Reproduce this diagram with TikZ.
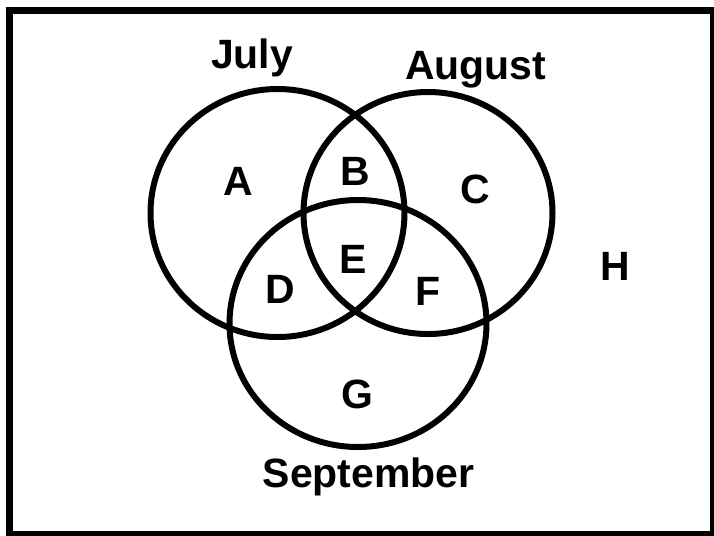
\documentclass[tikz,border=0pt]{standalone}
\usepackage{fontspec}
\setmainfont{Liberation Sans}
\usetikzlibrary{positioning}

\begin{document}
\begin{tikzpicture}[
    x=0.02cm, y=-0.02cm,
    frameline/.style={line width=0.14cm},
    vennline/.style={line width=0.12cm},
    setlabel/.style={anchor=base, inner sep=0pt, font=\bfseries\fontsize{23.3}{28}\selectfont},
    regionlabel/.style={anchor=base, inner sep=0pt, font=\bfseries\fontsize{23.3}{28}\selectfont}
  ]
    \useasboundingbox (0,0) rectangle (714,535);
    \draw[frameline] (9.5,10.5) rectangle (713.5,534.5);
    \coordinate (july) at (277.5,213);
    \coordinate (august) at (428,213);
    \coordinate (september) at (358,323.5);
    \draw[vennline] (july) ellipse [x radius=127, y radius=124];
    \draw[vennline] (august) ellipse [x radius=124.5, y radius=121];
    \draw[vennline] (september) ellipse [x radius=128.5, y radius=123.5];
    \node[setlabel] (julylbl) at (252,68) {July};
    \node[setlabel] (auguslbl) at (475.5,79) {August};
    \node[setlabel] (septlbl) at (368.5,487) {September};
    \node[regionlabel] (a) at (238,195) {A};
    \node[regionlabel] (b) at (355,185) {B};
    \node[regionlabel] (c) at (475,203) {C};
    \node[regionlabel] (d) at (280,303) {D};
    \node[regionlabel] (e) at (353,273) {E};
    \node[regionlabel] (f) at (428,305) {F};
    \node[regionlabel] (g) at (357,408) {G};
    \node[regionlabel] (h) at (615.5,280) {H};
  \end{tikzpicture}
\end{document}
